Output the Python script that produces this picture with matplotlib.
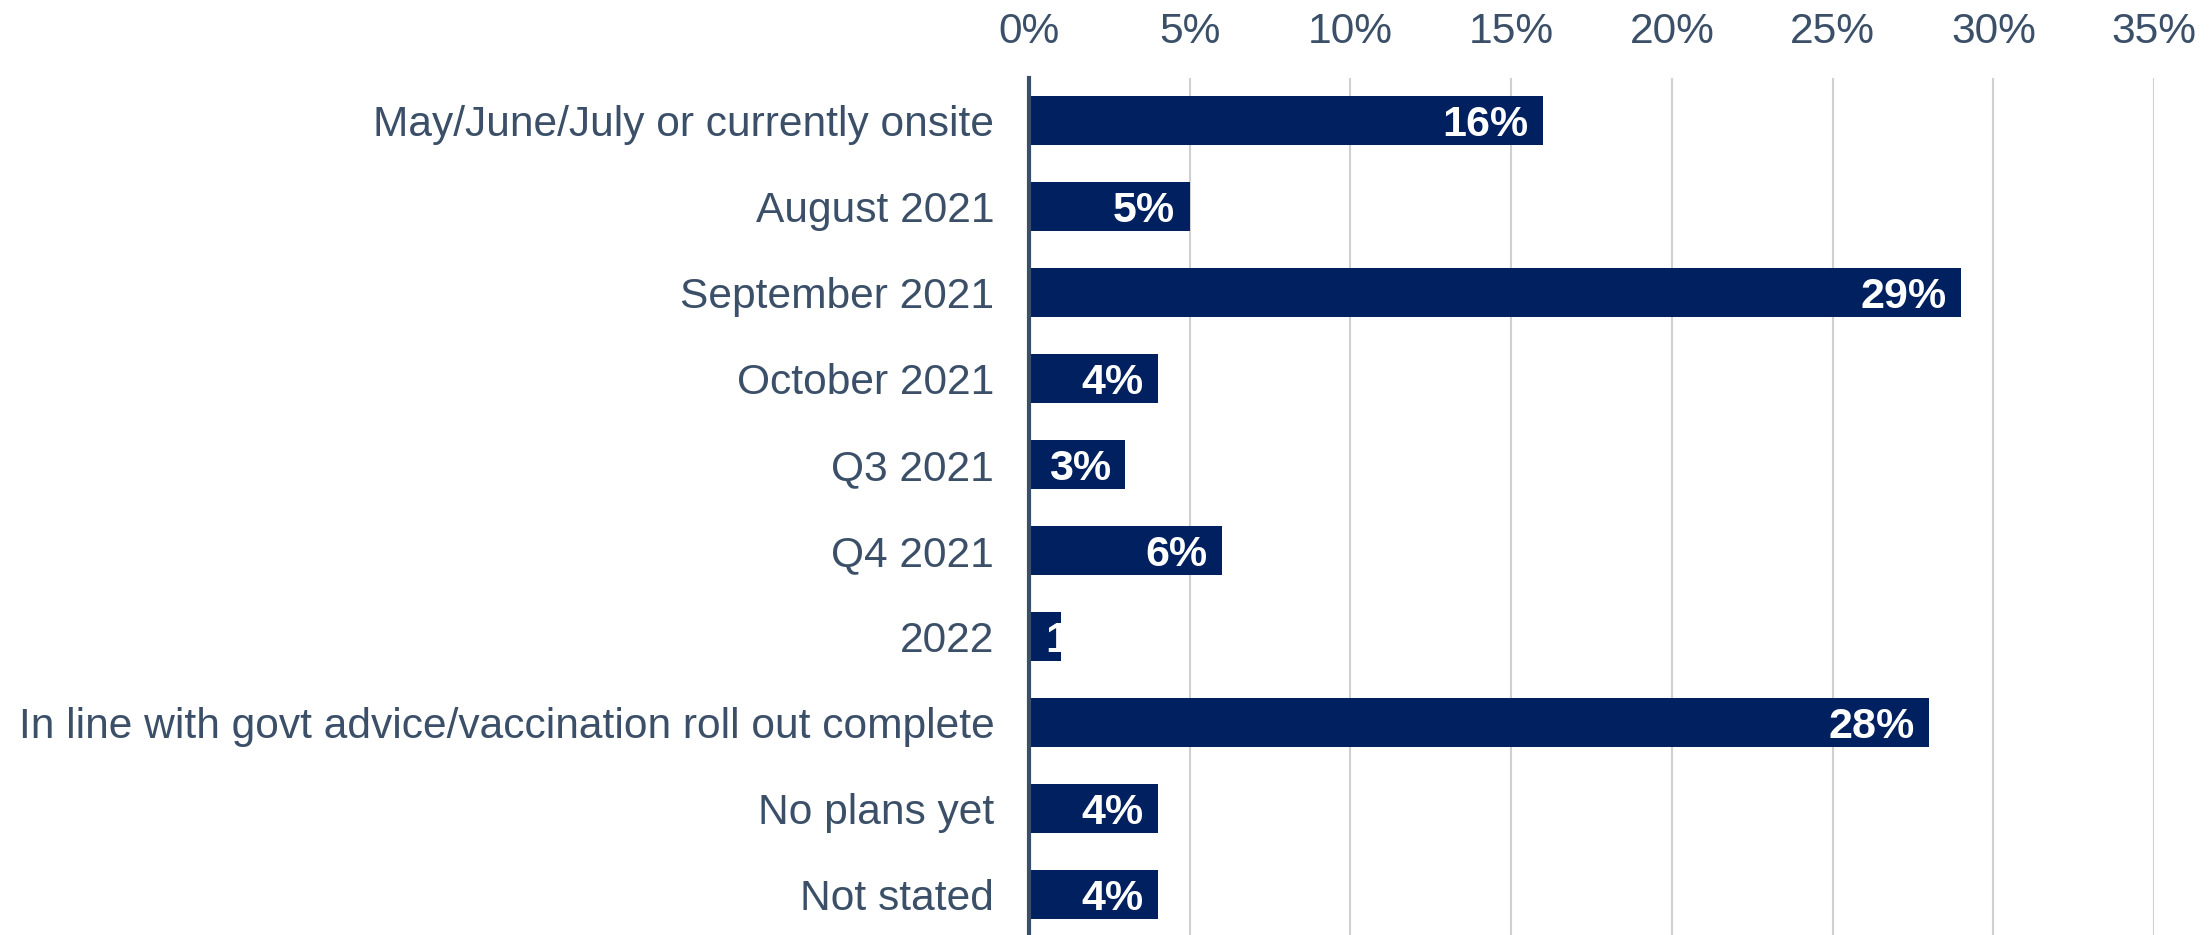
import numpy as np
import matplotlib.pyplot as plt

plt.rcParams['font.family'] = ['Liberation Sans', 'DejaVu Sans']

categories = ["May/June/July or currently onsite", "August 2021", "September 2021",
              "October 2021", "Q3 2021", "Q4 2021", "2022",
              "In line with govt advice/vaccination roll out complete",
              "No plans yet", "Not stated"]
values = [16, 5, 29, 4, 3, 6, 1, 28, 4, 4]
xticks = [0, 5, 10, 15, 20, 25, 30, 35]
xtick_labels = ["0%", "5%", "10%", "15%", "20%", "25%", "30%", "35%"]

bar_color = '#002060'
text_color = '#3B5068'

fig = plt.figure(figsize=(22.1, 9.35), dpi=100)
ax = fig.add_axes([0.4656, -0.003, 0.5091, 0.9196])

y = np.arange(len(categories))
ax.barh(y, values, height=0.57, color=bar_color, zorder=3)

ax.set_xlim(0, 35)
ax.set_ylim(len(categories) - 0.5, -0.5)
ax.set_yticks(y)
ax.set_yticklabels(categories, fontsize=30.6, color=text_color)
ax.set_xticks(xticks)
ax.set_xticklabels(xtick_labels, fontsize=30.6, color=text_color)
ax.xaxis.tick_top()
ax.tick_params(axis='both', length=0)
ax.tick_params(axis='y', pad=25)
ax.tick_params(axis='x', pad=19)

ax.grid(axis='x', color='#D0D0D0', linewidth=1.5, zorder=0)
for s in ['top', 'right', 'bottom']:
    ax.spines[s].set_visible(False)
ax.spines['left'].set_color(text_color)
ax.spines['left'].set_linewidth(3)
ax.spines['left'].set_zorder(4)

for yi, v in zip(y, values):
    if v >= 2:
        ax.text(v - 0.45, yi + 0.05, f"{v}%", ha='right', va='center', color='white',
                fontsize=31, fontweight='bold', zorder=5)
    else:
        ax.text(0.5, yi + 0.05, f"{v}%", ha='left', va='center', color='white',
                fontsize=31, fontweight='bold', zorder=5)

fig.savefig('out.png', dpi=100)
